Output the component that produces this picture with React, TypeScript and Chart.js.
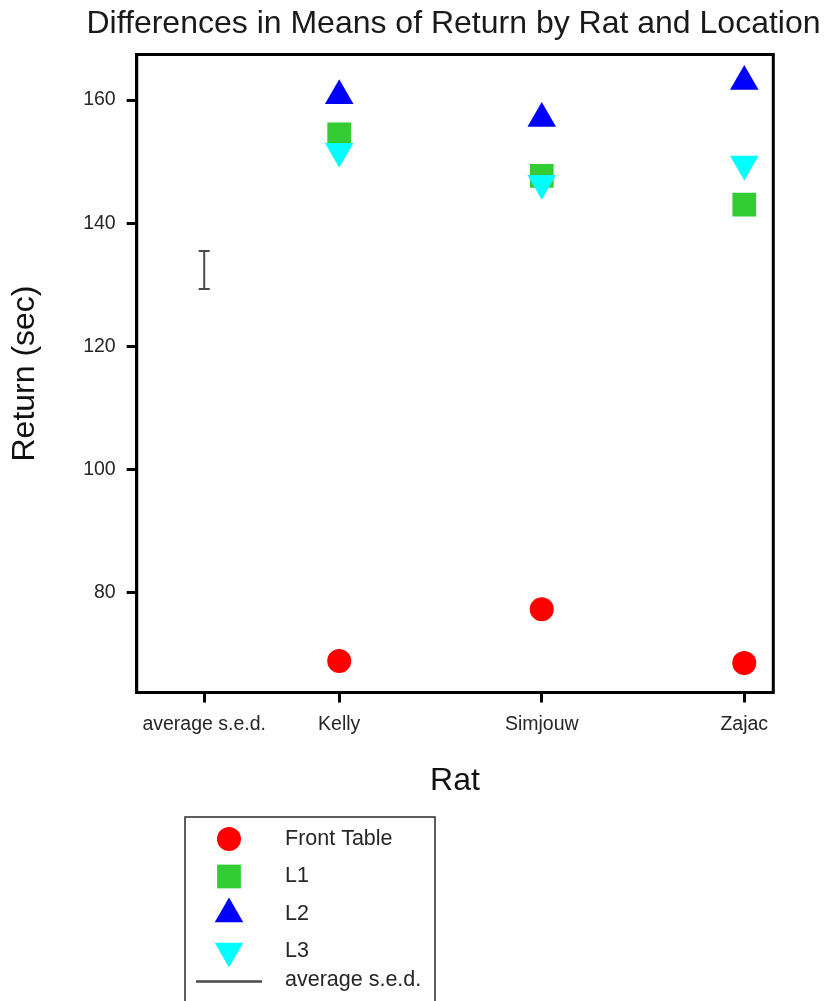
import React, { useEffect, useRef } from 'react';
import { Chart, registerables } from 'chart.js';
import { drawPoint } from 'chart.js/helpers';

Chart.register(...registerables);

// ---- data ----
const chartTitle = 'Differences in Means of Return by Rat and Location';
const xAxisTitle = 'Rat';
const yAxisTitle = 'Return (sec)';
const rats = ['Kelly', 'Simjouw', 'Zajac'];
const sedLabel = 'average s.e.d.';
const locations = ['Front Table', 'L1', 'L2', 'L3'];
const frontTable = [68.9, 77.3, 68.6];
const l1 = [154.4, 147.7, 143.0];
const l2 = [160.7, 157.0, 163.0];
const l3 = [151.7, 146.5, 149.6];
const sedBase = 129.3;
const sedValue = 6.2;
const yTickValues = [80, 100, 120, 140, 160];
// x-axis slots: the s.e.d. bar sits a short gap to the left of the first rat
const sedSlot = 0;
const ratSlots = [2, 5, 8];

const FONT = "'Liberation Sans', Arial, Helvetica, sans-serif";
const TEXT = '#262626';

const seriesValues = [frontTable, l1, l2, l3];
const seriesStyle = [
  { color: '#FF0000', pointStyle: 'circle', radius: 12, rotation: 0 },
  { color: '#33CC33', pointStyle: 'rect', radius: 16.8, rotation: 0 },
  { color: '#0000FF', pointStyle: 'triangle', radius: 16.5, rotation: 0 },
  { color: '#00FFFF', pointStyle: 'triangle', radius: 16.5, rotation: 180 },
];
const sedColor = '#4a4a4a';

const tickLabelFor = (v: number) => {
  if (v === sedSlot) return sedLabel;
  const i = ratSlots.indexOf(v);
  return i >= 0 ? rats[i] : '';
};

// Heading, a little wider than the plot, centred over it
const headingPlugin = {
  id: 'heading',
  afterDraw(chart: any) {
    const { ctx, chartArea } = chart;
    ctx.save();
    ctx.font = `32px ${FONT}`;
    ctx.fillStyle = '#1a1a1a';
    ctx.textAlign = 'center';
    ctx.textBaseline = 'alphabetic';
    ctx.fillText(chartTitle, (chartArea.left + chartArea.right) / 2 - 1.5, 32.7);
    ctx.restore();
  },
};

// Closed box round the plot area
const framePlugin = {
  id: 'plotFrame',
  beforeDatasetsDraw(chart: any) {
    const { ctx, chartArea } = chart;
    const { left, top, right, bottom } = chartArea;
    ctx.save();
    ctx.strokeStyle = '#000';
    ctx.lineWidth = 3;
    ctx.strokeRect(left, top, right - left, bottom - top);
    ctx.restore();
  },
};

// Boxed key under the x axis
const keyPlugin = {
  id: 'boxedKey',
  afterDraw(chart: any) {
    const { ctx } = chart;
    const boxX = 185;
    const boxY = 817;
    const boxW = 250;
    const markerX = 229;
    const textX = 285;
    const rowY = [839, 876.5, 914, 951, 980];
    ctx.save();
    ctx.strokeStyle = '#2a2a2a';
    ctx.lineWidth = 1.5;
    ctx.strokeRect(boxX, boxY, boxW, 260);
    ctx.font = `21.5px ${FONT}`;
    ctx.textBaseline = 'middle';
    ctx.textAlign = 'left';
    chart.data.datasets.forEach((ds: any, i: number) => {
      const y = rowY[i];
      if (ds.isSed) {
        ctx.strokeStyle = sedColor;
        ctx.lineWidth = 2.5;
        ctx.beginPath();
        ctx.moveTo(196, y + 1.5);
        ctx.lineTo(262, y + 1.5);
        ctx.stroke();
      } else {
        ctx.fillStyle = ds.backgroundColor;
        drawPoint(ctx, {
          pointStyle: ds.pointStyle,
          rotation: ds.rotation,
          radius: ds.pointRadius,
          borderWidth: 0,
        } as any, markerX, y);
      }
      ctx.fillStyle = TEXT;
      ctx.fillText(ds.label, textX, y);
    });
    ctx.restore();
  },
};

export default function App() {
  const ref = useRef<HTMLCanvasElement>(null);

  useEffect(() => {
    document.body.style.margin = '0';
    const canvas = ref.current;
    if (!canvas) return;

    const pointSets = seriesValues.map((vals, i) => ({
      type: 'scatter' as const,
      label: locations[i],
      data: vals.map((v, j) => ({ x: ratSlots[j], y: v })),
      backgroundColor: seriesStyle[i].color,
      borderColor: seriesStyle[i].color,
      borderWidth: 0,
      pointStyle: seriesStyle[i].pointStyle,
      rotation: seriesStyle[i].rotation,
      pointRadius: seriesStyle[i].radius,
      pointHoverRadius: seriesStyle[i].radius,
      order: 4 - i,
    }));

    const sedSet = {
      type: 'line' as const,
      label: sedLabel,
      isSed: true,
      data: [
        { x: sedSlot, y: sedBase },
        { x: sedSlot, y: sedBase + sedValue },
      ],
      showLine: true,
      borderColor: sedColor,
      backgroundColor: sedColor,
      borderWidth: 2,
      pointStyle: 'line',
      pointRadius: 5.5,
      pointBorderColor: sedColor,
      pointBorderWidth: 2,
      order: 5,
    };

    const chart = new Chart(canvas, {
      type: 'scatter',
      data: { datasets: [...pointSets, sedSet] as any },
      options: {
        animation: false,
        responsive: false,
        devicePixelRatio: 1,
        events: [],
        layout: { padding: { left: 0, right: 57.7, top: 54.5, bottom: 200 } },
        plugins: {
          legend: { display: false },
          tooltip: { enabled: false },
          title: { display: false },
        },
        scales: {
          x: {
            type: 'linear',
            min: -1,
            max: 8.43,
            afterBuildTicks: (s: any) => {
              s.ticks = [sedSlot, ...ratSlots].map((v) => ({ value: v }));
            },
            afterFit: (s: any) => {
              s.height = 108.5;
            },
            ticks: {
              callback: (v: any) => tickLabelFor(Number(v)),
              font: { family: FONT, size: 19.5 },
              color: TEXT,
              padding: 10,
              autoSkip: false,
              maxRotation: 0,
            },
            grid: {
              display: true,
              drawOnChartArea: false,
              drawTicks: true,
              tickLength: 10,
              tickWidth: 3,
              tickColor: '#000',
            },
            border: { display: true, width: 3, color: '#000' },
            title: {
              display: true,
              text: xAxisTitle,
              color: '#111',
              font: { family: FONT, size: 32, lineHeight: 1.2 },
              padding: { top: 0, bottom: 0.8 },
            },
          },
          y: {
            type: 'linear',
            min: 63.8,
            max: 167.39,
            afterBuildTicks: (s: any) => {
              s.ticks = yTickValues.map((v) => ({ value: v }));
            },
            afterFit: (s: any) => {
              s.width = 136.7;
            },
            ticks: {
              font: { family: FONT, size: 19.5 },
              color: TEXT,
              padding: 11,
            },
            grid: {
              display: true,
              drawOnChartArea: false,
              drawTicks: true,
              tickLength: 10,
              tickWidth: 3,
              tickColor: '#000',
            },
            border: { display: true, width: 3, color: '#000' },
            title: {
              display: true,
              text: yAxisTitle,
              color: '#111',
              font: { family: FONT, size: 32, lineHeight: 1.2 },
              padding: { top: 6.4, bottom: 0 },
            },
          },
        },
      } as any,
      plugins: [framePlugin, keyPlugin, headingPlugin],
    });

    return () => chart.destroy();
  }, []);

  return (
    <div style={{ width: 831, height: 1001, background: '#fff', overflow: 'hidden' }}>
      <canvas ref={ref} width={831} height={1001} style={{ display: 'block' }} />
    </div>
  );
}
